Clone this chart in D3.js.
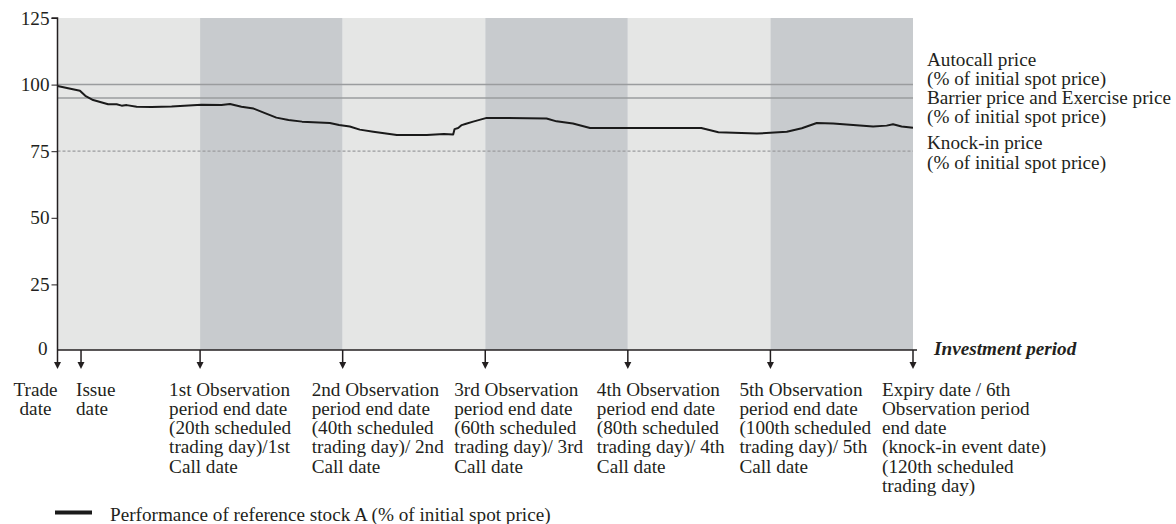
<!DOCTYPE html>
<html>
<head>
<meta charset="utf-8">
<script src="https://cdn.jsdelivr.net/npm/d3@7"></script>
<style>
  html, body { margin: 0; padding: 0; background: #fff; }
  svg { display: block; font-family: "Liberation Serif", "Times New Roman", serif; }
</style>
</head>
<body>
<svg id="chart" width="1176" height="524"></svg>
<script>
// ---------- data ----------
const yTicks = [0, 25, 50, 75, 100, 125];
const periodStarts = [0, 20, 40, 60, 80, 100];   // observation periods (trading days)
const periodShade  = ["light", "dark", "light", "dark", "light", "dark"];

const perfDays = [0, 3.15, 3.9, 5.0, 7.1, 8.3, 9.0, 9.7, 11.1, 13.2, 16.0, 20.2, 23.0, 24.2, 25.8, 27.5, 29.1, 30.7, 32.4, 34.3, 38.2, 39.5, 41.0, 42.4, 44.3, 47.6, 51.8, 54.2, 55.5, 55.7, 56.2, 56.7, 57.2, 58.3, 60.2, 68.6, 70.0, 72.3, 74.7, 81.7, 90.3, 92.7, 98.1, 102.3, 104.4, 106.5, 108.8, 114.4, 116.3, 117.2, 118.4, 120];
const perfValues = [99.5, 97.7, 95.8, 94.2, 92.6, 92.6, 92.1, 92.3, 91.7, 91.6, 91.8, 92.4, 92.3, 92.7, 91.7, 91.0, 89.3, 87.6, 86.7, 86.1, 85.6, 84.8, 84.3, 83.1, 82.3, 81.1, 81.1, 81.5, 81.3, 83.3, 83.7, 84.8, 85.2, 86.1, 87.5, 87.3, 86.2, 85.4, 83.7, 83.7, 83.7, 82.1, 81.6, 82.3, 83.6, 85.6, 85.4, 84.3, 84.6, 85.1, 84.3, 83.8];

const refLevels = [100, 95, 75];
const refStyles = ["solid", "solid", "dashed"];
const refLabels = [
  ["Autocall price", "(% of initial spot price)"],
  ["Barrier price and Exercise price", "(% of initial spot price)"],
  ["Knock-in price", "(% of initial spot price)"]
];

const eventDays = [0, 3.3, 20, 40, 60, 80, 100, 120];
const eventLabels = [
  ["Trade", "date"],
  ["Issue", "date"],
  ["1st Observation", "period end date", "(20th scheduled", "trading day)/1st", "Call date"],
  ["2nd Observation", "period end date", "(40th scheduled", "trading day)/ 2nd", "Call date"],
  ["3rd Observation", "period end date", "(60th scheduled", "trading day)/ 3rd", "Call date"],
  ["4th Observation", "period end date", "(80th scheduled", "trading day)/ 4th", "Call date"],
  ["5th Observation", "period end date", "(100th scheduled", "trading day)/ 5th", "Call date"],
  ["Expiry date / 6th", "Observation period", "end date", "(knock-in event date)", "(120th scheduled", "trading day)"]
];
const axisTitle = "Investment period";
const legendLabel = "Performance of reference stock A (% of initial spot price)";

// ---------- layout ----------
const svg = d3.select("#chart");
const textColor = "#231f20";
const fontSize = 19.2;
const lineH = 19.3;

const x = d3.scaleLinear().domain([0, 120]).range([57.5, 913]);
const y = d3.scaleLinear().domain([0, 125]).range([351, 18]);

// bands
svg.append("g").selectAll("rect")
  .data(periodStarts)
  .join("rect")
  .attr("x", d => x(d))
  .attr("width", d => x(d + 20) - x(d))
  .attr("y", y(125))
  .attr("height", 350 - y(125))
  .attr("fill", (d, i) => periodShade[i] === "dark" ? "#c8cbce" : "#e5e6e5");

// reference lines
svg.append("g").selectAll("line")
  .data(refLevels)
  .join("line")
  .attr("x1", x(0)).attr("x2", x(120))
  .attr("y1", d => y(d)).attr("y2", d => y(d))
  .attr("stroke", "#9a9c9e")
  .attr("stroke-width", (d, i) => refStyles[i] === "dashed" ? 1.3 : 1.5)
  .attr("stroke-dasharray", (d, i) => refStyles[i] === "dashed" ? "3,2" : null);

// reference labels
const refAnchorY = [66, 104, 149.3];
refLabels.forEach((lines, i) => {
  const t = svg.append("text")
    .attr("x", 927).attr("y", refAnchorY[i])
    .attr("font-size", fontSize).attr("fill", textColor);
  lines.forEach((s, j) => t.append("tspan").attr("x", 927).attr("dy", j === 0 ? 0 : lineH).text(s));
});

// performance line
const perf = perfDays.map((d, i) => [d, perfValues[i]]);
svg.append("path")
  .datum(perf)
  .attr("fill", "none")
  .attr("stroke", "#1a1a1a")
  .attr("stroke-width", 2)
  .attr("stroke-linejoin", "round")
  .attr("d", d3.line().x(d => x(d[0])).y(d => y(d[1])));

// y axis
const yAxis = d3.axisLeft(y).tickValues(yTicks).tickSize(6).tickPadding(2).tickFormat(d3.format("d"));
const gy = svg.append("g").attr("transform", `translate(${x(0)},0)`).call(yAxis);
gy.select(".domain").attr("stroke", textColor).attr("stroke-width", 1.5).attr("d", `M-6,${y(125)}H0V350`);
gy.selectAll(".tick line").attr("stroke", textColor).attr("stroke-width", 1);
gy.selectAll(".tick text")
  .attr("font-family", "Liberation Serif, Times New Roman, serif")
  .attr("font-size", fontSize).attr("fill", textColor);
gy.selectAll(".tick").filter(d => d === 0).select("line").remove();
gy.selectAll(".tick").filter(d => d === 0).select("text").attr("x", -10).attr("dy", "0.2em");

// x axis baseline
svg.append("line")
  .attr("x1", x(0)).attr("x2", x(120) + 4)
  .attr("y1", 350).attr("y2", 350)
  .attr("stroke", textColor).attr("stroke-width", 1.5);

// arrows
svg.append("g").selectAll("g")
  .data(eventDays)
  .join(enter => {
    const g = enter.append("g");
    g.append("line")
      .attr("x1", d => x(d)).attr("x2", d => x(d))
      .attr("y1", 350).attr("y2", 362)
      .attr("stroke", textColor).attr("stroke-width", 1.5);
    g.append("path")
      .attr("d", d => `M${x(d) - 3.5},362 L${x(d) + 3.5},362 L${x(d)},369 Z`)
      .attr("fill", textColor);
    return g;
  });

// event labels
eventLabels.forEach((lines, i) => {
  let anchor = "start", lx;
  if (i === 0) { anchor = "middle"; lx = x(eventDays[i]) - 22; }
  else if (i === 1) { lx = x(eventDays[i]) - 5; }
  else { lx = x(eventDays[i]) - 31; }
  const t = svg.append("text")
    .attr("x", lx).attr("y", 395.5)
    .attr("text-anchor", anchor)
    .attr("font-size", fontSize).attr("fill", textColor);
  lines.forEach((s, j) => t.append("tspan").attr("x", lx).attr("dy", j === 0 ? 0 : lineH).text(s));
});

// axis title
svg.append("text")
  .attr("x", 934).attr("y", 355)
  .attr("font-size", fontSize).attr("font-weight", "bold").attr("font-style", "italic")
  .attr("fill", textColor)
  .text(axisTitle);

// legend
svg.append("line")
  .attr("x1", 55).attr("x2", 92).attr("y1", 512.5).attr("y2", 512.5)
  .attr("stroke", "#1a1a1a").attr("stroke-width", 4);
svg.append("text")
  .attr("x", 110).attr("y", 521)
  .attr("font-size", fontSize).attr("fill", textColor)
  .text(legendLabel);
</script>
</body>
</html>
